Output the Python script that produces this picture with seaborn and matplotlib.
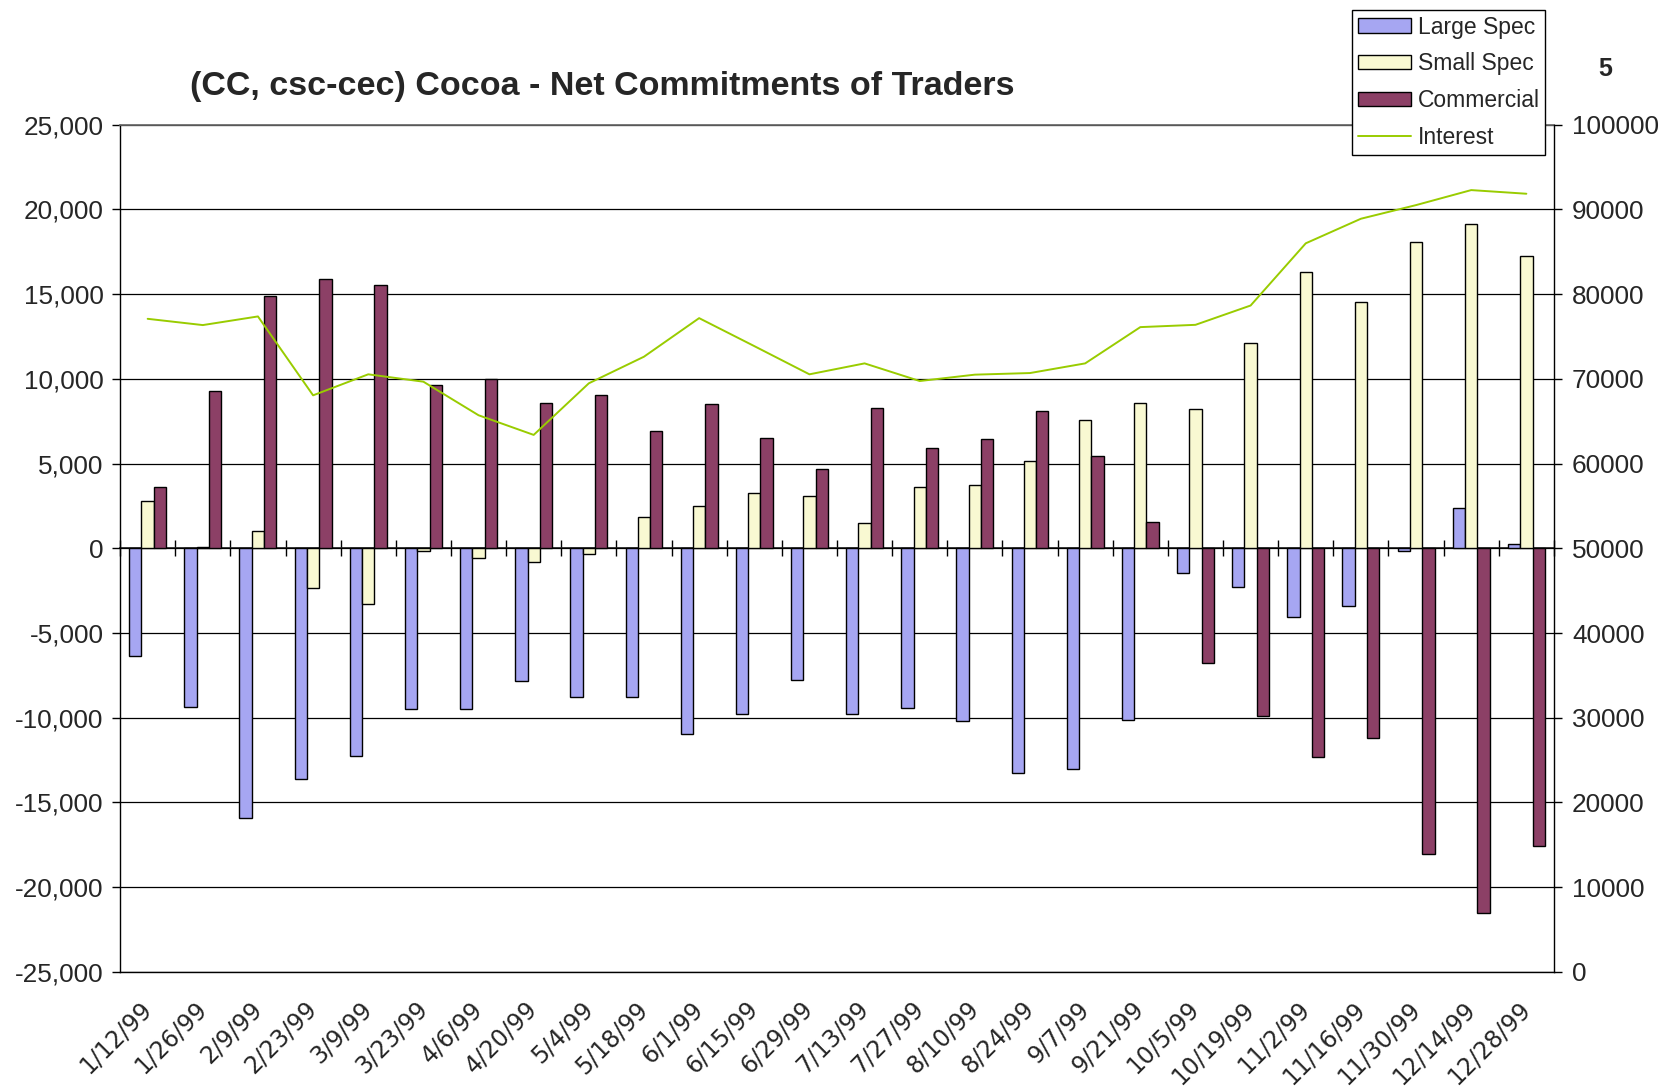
import numpy as np
import pandas as pd
import matplotlib
matplotlib.use("Agg")
import matplotlib.pyplot as plt
import seaborn as sns
from matplotlib.ticker import FuncFormatter, MultipleLocator

dates = ["1/12/99", "1/26/99", "2/9/99", "2/23/99", "3/9/99", "3/23/99", "4/6/99",
         "4/20/99", "5/4/99", "5/18/99", "6/1/99", "6/15/99", "6/29/99", "7/13/99",
         "7/27/99", "8/10/99", "8/24/99", "9/7/99", "9/21/99", "10/5/99", "10/19/99",
         "11/2/99", "11/16/99", "11/30/99", "12/14/99", "12/28/99"]

large_spec = [-6340, -9380, -15940, -13640, -12250, -9500, -9500, -7830, -8750, -8750,
              -10960, -9750, -7760, -9800, -9450, -10180, -13260, -13030, -10140, -1480,
              -2280, -4080, -3430, -140, 2350, 250]
small_spec = [2770, 50, 1040, -2320, -3280, -180, -570, -820, -310, 1830,
              2470, 3260, 3100, 1490, 3590, 3750, 5140, 7580, 8560, 8190,
              12130, 16330, 14520, 18090, 19110, 17250]
commercial = [3590, 9290, 14900, 15880, 15510, 9640, 10010, 8580, 9030, 6910,
              8500, 6500, 4650, 8270, 5890, 6420, 8110, 5440, 1530, -6750,
              -9900, -12340, -11180, -18050, -21540, -17540]
interest = [77080, 76340, 77360, 68050, 70530, 69660, 65700, 63380, 69470, 72610,
            77160, 73860, 70530, 71820, 69740, 70490, 70680, 71820, 76100, 76370,
            78650, 85990, 88890, 90500, 92270, 91840]

series_names = ["Large Spec", "Small Spec", "Commercial"]
bar_colors = ["#9999FF", "#FFFFCC", "#993366"]
line_color = "#99CC00"

sns.set_theme(style="white")
plt.rcParams["font.family"] = ["Liberation Sans", "DejaVu Sans"]

df = pd.DataFrame({"date": dates, "Large Spec": large_spec,
                   "Small Spec": small_spec, "Commercial": commercial})
df = df.melt(id_vars="date", var_name="series", value_name="net")

fig = plt.figure(figsize=(16.7, 10.91), dpi=100)
ax = fig.add_axes([0.0719, 0.1091, 0.8586, 0.7767])

sns.barplot(data=df, x="date", y="net", hue="series", hue_order=series_names,
            palette=bar_colors, width=0.67, errorbar=None, edgecolor="black",
            linewidth=1, ax=ax, zorder=3)
ax.get_legend().remove()
ax.set_xlim(-0.5, len(dates) - 0.5)
ax.set_ylim(-25000, 25000)
ax.yaxis.set_major_locator(MultipleLocator(5000))
ax.yaxis.set_major_formatter(FuncFormatter(lambda v, p: f"{int(v):,}"))
ax.yaxis.grid(True, color="black", lw=0.9)
ax.set_axisbelow(True)
ax.set_xlabel("")
ax.set_ylabel("")
ax.tick_params(axis="y", labelsize=18.8, length=6, direction="out", color="black",
               width=1, pad=6, left=True)
ax.tick_params(axis="x", length=0, pad=24)
for lbl in ax.get_xticklabels():
    lbl.set_rotation(45)
    lbl.set_ha("right")
    lbl.set_va("center")
    lbl.set_rotation_mode("anchor")
    lbl.set_family(["DejaVu Sans"])
    lbl.set_fontsize(17)
for side in ["left", "bottom"]:
    ax.spines[side].set_color("black")
    ax.spines[side].set_linewidth(1)
ax.spines["top"].set_color("#666666")
ax.spines["right"].set_visible(False)

# category axis crossing at zero with tick marks between groups
zero_axis = ax.secondary_xaxis(0.5)
zero_axis.set_xticks(np.arange(len(dates) + 1) - 0.5, labels=[])
zero_axis.tick_params(direction="inout", length=12, width=1, color="black")
zero_axis.spines["bottom"].set_color("black")
zero_axis.spines["bottom"].set_linewidth(1)

ax2 = ax.twinx()
sns.lineplot(x=np.arange(len(dates)), y=interest, color=line_color, lw=1.4,
             ax=ax2, label="Interest")
ax2.get_legend().remove()
ax2.set_ylim(0, 100000)
ax2.yaxis.set_major_locator(MultipleLocator(10000))
ax2.yaxis.set_major_formatter(FuncFormatter(lambda v, p: f"{int(v)}"))
ax2.tick_params(axis="y", labelsize=18.8, length=6, direction="out", color="black",
                width=1, pad=7, right=True)
ax2.spines["right"].set_color("black")
ax2.spines["right"].set_linewidth(1)
for side in ["top", "left", "bottom"]:
    ax2.spines[side].set_visible(False)
ax2.set_ylabel("")

fig.text(0.3605, 0.921, "(CC, csc-cec) Cocoa - Net Commitments of Traders",
         ha="center", va="center", fontsize=24.5, fontweight="bold")
fig.text(0.961, 0.937, "5", ha="center", va="center", fontsize=18, fontweight="bold")

h1, l1 = ax.get_legend_handles_labels()
h2, l2 = ax2.get_legend_handles_labels()
leg = fig.legend(h1 + h2, l1 + l2, loc="upper right", bbox_to_anchor=(0.9253, 0.991),
                 fontsize=16.5, frameon=True, fancybox=False, edgecolor="black",
                 framealpha=1, handlelength=2.3, handleheight=0.6, labelspacing=0.6,
                 borderpad=0.25, handletextpad=0.3, borderaxespad=0)
leg.get_frame().set_linewidth(1)

fig.savefig("out.png", dpi=100)
plt.close(fig)
